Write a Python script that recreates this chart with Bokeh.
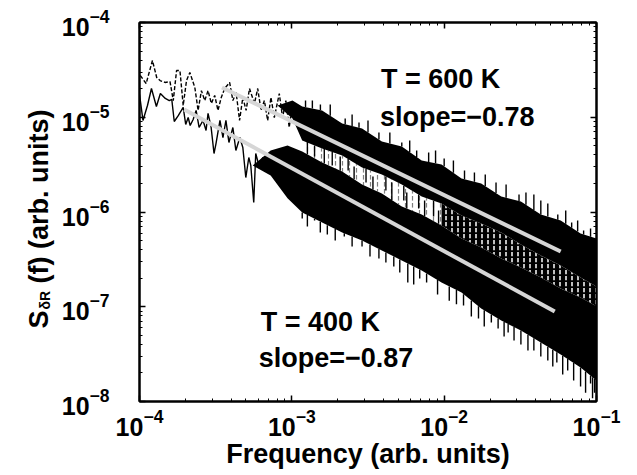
import numpy as np
from bokeh.plotting import figure
from bokeh.layouts import row
from bokeh.models import LogAxis, FixedTicker, Label, LogTickFormatter, Range1d
from bokeh.embed import file_html
from bokeh.resources import INLINE

# ---------------- data ----------------
# T = 400 K, low-frequency (resolved) part of the spectrum
f400 = [1.00e-4, 1.054e-4, 1.128e-4, 1.198e-4, 1.291e-4, 1.371e-4, 1.477e-4, 1.569e-4, 1.629e-4, 1.691e-4,
        1.796e-4, 1.936e-4, 2.011e-4, 2.087e-4, 2.151e-4, 2.250e-4, 2.353e-4, 2.462e-4, 2.614e-4, 2.735e-4,
        2.818e-4, 2.948e-4, 3.084e-4, 3.178e-4, 3.375e-4, 3.530e-4, 3.693e-4, 3.864e-4, 4.102e-4, 4.292e-4,
        4.557e-4, 4.768e-4, 4.987e-4, 5.218e-4, 5.377e-4, 5.623e-4, 5.795e-4, 6.154e-4, 6.438e-4, 6.735e-4,
        7.150e-4, 7.479e-4, 7.825e-4, 8.310e-4, 8.692e-4, 9.094e-4, 9.512e-4]
s400 = [1.74e-5, 9.25e-6, 1.33e-5, 2.01e-5, 1.30e-5, 1.78e-5, 1.58e-5, 1.50e-5, 1.54e-5, 9.02e-6,
        1.04e-5, 1.27e-5, 8.38e-6, 9.93e-6, 8.18e-6, 9.46e-6, 1.18e-5, 7.80e-6, 9.25e-6, 7.24e-6,
        1.10e-5, 7.98e-6, 4.14e-6, 5.28e-6, 9.25e-6, 6.11e-6, 9.25e-6, 5.42e-6, 7.80e-6, 4.46e-6,
        6.11e-6, 4.80e-6, 2.31e-6, 3.76e-6, 3.10e-6, 1.26e-6, 4.14e-6, 2.88e-6, 3.76e-6, 2.74e-6,
        4.14e-6, 3.02e-6, 3.76e-6, 2.31e-6, 3.67e-6, 2.43e-6, 3.50e-6]

# T = 600 K, low-frequency (resolved) part of the spectrum
f600 = [1.011e-4, 1.106e-4, 1.216e-4, 1.297e-4, 1.365e-4, 1.471e-4, 1.586e-4, 1.666e-4, 1.751e-4, 1.843e-4,
        1.936e-4, 2.035e-4, 2.141e-4, 2.308e-4, 2.425e-4, 2.549e-4, 2.682e-4, 2.818e-4, 2.962e-4, 3.117e-4,
        3.275e-4, 3.442e-4, 3.622e-4, 3.905e-4, 4.102e-4, 4.311e-4, 4.537e-4, 4.768e-4, 5.010e-4, 5.272e-4,
        5.683e-4, 5.971e-4, 6.276e-4, 6.604e-4, 6.939e-4, 7.292e-4, 7.674e-4, 8.273e-4, 8.692e-4, 9.136e-4,
        9.612e-4, 1.010e-3, 1.057e-3, 1.105e-3, 1.174e-3, 1.228e-3]
s600 = [2.76e-5, 2.27e-5, 3.97e-5, 2.63e-5, 2.44e-5, 2.33e-5, 2.38e-5, 1.50e-5, 3.11e-5, 3.11e-5,
        1.33e-5, 2.44e-5, 2.97e-5, 2.06e-5, 1.18e-5, 1.91e-5, 1.50e-5, 1.91e-5, 1.40e-5, 1.70e-5,
        1.18e-5, 1.62e-5, 2.01e-5, 2.33e-5, 1.50e-5, 1.82e-5, 9.25e-6, 1.62e-5, 1.18e-5, 2.01e-5,
        1.40e-5, 2.01e-5, 1.18e-5, 1.50e-5, 9.25e-6, 1.62e-5, 9.93e-6, 1.78e-5, 9.93e-6, 1.50e-5,
        7.80e-6, 1.43e-5, 9.70e-6, 1.30e-5, 8.18e-6, 1.18e-5]

# dense high-frequency part: envelopes of the black bands
fband400 = [5.54e-4, 7.26e-4, 9.37e-4, 1.17e-3, 1.58e-3, 2.14e-3, 2.89e-3, 3.90e-3, 5.27e-3, 7.12e-3,
            9.61e-3, 1.30e-2, 1.75e-2, 2.37e-2, 3.19e-2, 4.31e-2, 5.82e-2, 7.86e-2, 1.0e-1]
upper400 = [3.10e-6, 4.46e-6, 5.04e-6, 4.36e-6, 3.33e-6, 2.67e-6, 1.95e-6, 1.57e-6, 1.14e-6, 9.42e-7,
            7.21e-7, 5.25e-7, 4.22e-7, 3.23e-7, 2.59e-7, 2.04e-7, 1.56e-7, 1.25e-7, 1.01e-7]
lower400 = [3.10e-6, 2.43e-6, 1.40e-6, 9.89e-7, 7.74e-7, 6.08e-7, 5.00e-7, 3.93e-7, 3.08e-7, 2.42e-7,
            1.80e-7, 1.41e-7, 9.59e-8, 7.16e-8, 5.61e-8, 4.20e-8, 3.13e-8, 2.29e-8, 1.67e-8]

fband600 = [8.06e-4, 1.01e-3, 1.17e-3, 1.58e-3, 2.14e-3, 2.89e-3, 3.90e-3, 5.27e-3, 7.12e-3, 9.61e-3,
            1.30e-2, 1.75e-2, 2.37e-2, 3.19e-2, 4.31e-2, 5.82e-2, 7.86e-2, 1.0e-1]
upper600 = [1.33e-5, 1.50e-5, 1.30e-5, 1.18e-5, 8.59e-6, 7.60e-6, 5.55e-6, 4.91e-6, 3.50e-6, 3.17e-6,
            2.26e-6, 2.00e-6, 1.46e-6, 1.29e-6, 9.42e-7, 8.13e-7, 5.93e-7, 5.25e-7]
lower600 = [1.33e-5, 9.70e-6, 5.69e-6, 4.68e-6, 3.95e-6, 2.95e-6, 2.49e-6, 1.95e-6, 1.46e-6, 1.23e-6,
            9.18e-7, 7.57e-7, 6.08e-7, 4.54e-7, 3.48e-7, 2.72e-7, 2.04e-7, 1.64e-7]

# isolated spikes sticking out of the dense bands
# 400 K, downward (below the band)
spike400_f = [1.17e-3, 1.41e-3, 1.71e-3, 2.21e-3, 2.89e-3, 3.73e-3, 4.67e-3, 5.77e-3, 6.91e-3, 1.08e-2,
              1.34e-2, 1.68e-2, 2.04e-2, 2.26e-2, 2.63e-2, 3.19e-2, 3.88e-2, 4.79e-2, 5.49e-2, 6.47e-2,
              7.86e-2, 9.14e-2, 9.71e-2,
              1.265e-3, 1.538e-3, 1.927e-3, 2.487e-3, 3.259e-3, 4.144e-3, 5.112e-3, 6.310e-3, 7.669e-3,
              9.05e-3, 1.204e-2, 1.508e-2, 1.833e-2, 2.474e-2, 2.875e-2, 3.548e-2, 4.31e-2, 5.164e-2,
              6.00e-2, 7.079e-2, 8.479e-2, 9.42e-2]
spike400_s = [8.53e-7, 8.13e-7, 5.79e-7, 5.51e-7, 4.33e-7, 3.23e-7, 2.66e-7, 1.80e-7, 1.99e-7, 1.16e-7,
              1.03e-7, 7.52e-8, 6.82e-8, 5.89e-8, 5.35e-8, 4.00e-8, 3.45e-8, 2.71e-8, 2.58e-8, 2.12e-8,
              1.44e-8, 1.55e-8, 1.24e-8,
              7.03e-7, 6.08e-7, 5.00e-7, 4.33e-7, 3.39e-7, 2.93e-7, 2.30e-7, 1.72e-7, 1.80e-7,
              1.35e-7, 1.06e-7, 7.89e-8, 6.19e-8, 4.85e-8, 4.41e-8, 3.45e-8, 2.99e-8, 2.34e-8,
              1.93e-8, 1.67e-8, 1.24e-8, 1.08e-8]
# 400 K, upward (into the gap between the two bands)
spike400up_f = [1.265e-3, 1.633e-3, 2.077e-3, 2.563e-3, 3.408e-3, 4.534e-3, 5.682e-3, 7.441e-3, 9.19e-3]
spike400up_s = [5.69e-6, 4.68e-6, 3.85e-6, 3.02e-6, 2.37e-6, 2.05e-6, 1.61e-6, 1.32e-6, 1.04e-6]
# 600 K, upward (above the band)
spike600_f = [1.23e-3, 1.54e-3, 2.24e-3, 2.76e-3, 3.73e-3, 5.27e-3, 6.60e-3, 7.91e-3, 1.00e-2, 1.36e-2,
              1.58e-2, 2.19e-2, 3.10e-2, 3.88e-2, 4.79e-2, 5.57e-2, 6.87e-2, 8.23e-2,
              1.364e-3, 1.787e-3, 2.487e-3, 3.162e-3, 4.400e-3, 5.940e-3, 8.78e-3, 1.150e-2, 1.861e-2,
              2.550e-2, 3.443e-2, 4.31e-2, 6.28e-2, 7.52e-2, 9.14e-2]
spike600_s = [1.50e-5, 1.36e-5, 9.70e-6, 8.81e-6, 6.90e-6, 5.42e-6, 4.46e-6, 4.25e-6, 3.67e-6, 2.74e-6,
              2.61e-6, 2.05e-6, 1.53e-6, 1.53e-6, 1.23e-6, 9.42e-7, 7.74e-7, 6.38e-7,
              1.50e-5, 1.36e-5, 1.07e-5, 9.25e-6, 6.90e-6, 5.69e-6, 4.46e-6, 3.50e-6, 2.49e-6,
              1.95e-6, 1.61e-6, 1.32e-6, 1.04e-6, 8.13e-7, 6.70e-7]
# 600 K, downward (into the gap between the two bands)
spike600dn_f = [1.41e-3, 1.842e-3, 2.342e-3, 3.069e-3, 4.144e-3, 5.431e-3, 6.80e-3, 8.52e-3]
spike600dn_s = [3.85e-6, 3.10e-6, 2.74e-6, 2.05e-6, 1.69e-6, 1.32e-6, 1.09e-6, 8.97e-7]

# power-law fits (end points)
fit600_f = [3.48e-4, 5.82e-2]
fit600_s = [2.06e-5, 3.83e-7]
fit400_f = [1.965e-4, 5.32e-2]
fit400_s = [1.21e-5, 8.91e-8]

x_major = [1e-4, 1e-3, 1e-2, 1e-1]
y_major = [1e-8, 1e-7, 1e-6, 1e-5, 1e-4]

# ---------------- figure ----------------
FONT = "Liberation Sans"
LAB_W = 58
p = figure(width=637 - LAB_W, height=475, x_axis_type="log", y_axis_type="log",
           x_range=(1e-4, 1e-1), y_range=(1e-8, 1e-4),
           output_backend="svg", toolbar_location=None,
           min_border_left=136 - LAB_W, min_border_right=41, min_border_top=22, min_border_bottom=74)
p.grid.visible = False
p.outline_line_color = "black"
p.outline_line_width = 2
p.background_fill_color = "white"
p.border_fill_color = "white"

x_minor = [m * 10.0 ** k for k in range(-4, -1) for m in range(2, 10)]
y_minor = [m * 10.0 ** k for k in range(-8, -4) for m in range(2, 10)]


def style(ax, ticks, minor, show_labels=True):
    ax.ticker = FixedTicker(ticks=ticks, minor_ticks=minor)
    ax.formatter = LogTickFormatter()
    ax.axis_line_width = 2
    ax.axis_line_color = "black"
    ax.major_tick_in = 6
    ax.major_tick_out = 0
    ax.minor_tick_in = 3
    ax.minor_tick_out = 0
    ax.major_tick_line_width = 1.5
    ax.minor_tick_line_width = 1
    ax.major_tick_line_color = "black"
    ax.minor_tick_line_color = "black"
    if show_labels:
        ax.major_label_text_font = FONT
        ax.major_label_text_font_style = "bold"
        ax.major_label_text_font_size = "25px"
        ax.major_label_text_color = "black"
    else:
        ax.major_label_text_font_size = "1px"
        ax.major_label_text_alpha = 0
        ax.major_label_standoff = 0


style(p.xaxis[0], x_major, x_minor)
style(p.yaxis[0], y_major, y_minor)
p.xaxis[0].major_label_standoff = 7
p.yaxis[0].major_label_standoff = 30
p.xaxis[0].axis_label = "Frequency (arb. units)"
p.xaxis[0].axis_label_text_font = FONT
p.xaxis[0].axis_label_text_font_style = "bold"
p.xaxis[0].axis_label_text_font_size = "27px"
p.xaxis[0].axis_label_standoff = 0
p.xaxis[0].axis_label_text_color = "black"

top = LogAxis()
style(top, x_major, x_minor, show_labels=False)
right = LogAxis()
style(right, y_major, y_minor, show_labels=False)
p.add_layout(top, "above")
p.add_layout(right, "right")

# speckled region between the two dense bands
p.varea(x=fband600[2:10], y1=upper400[3:11], y2=lower600[2:10], fill_alpha=0,
        hatch_pattern="vertical_dash", hatch_color="black", hatch_alpha=0.5, hatch_scale=7, hatch_weight=1.2)
p.varea(x=fband600[9:], y1=upper400[10:], y2=lower600[9:], fill_color="black", fill_alpha=1,
        hatch_pattern="vertical_dash", hatch_color="white", hatch_alpha=1, hatch_scale=6, hatch_weight=1.5)

# dense bands
p.varea(x=fband600, y1=lower600, y2=upper600, fill_color="black")
p.varea(x=fband400, y1=lower400, y2=upper400, fill_color="black")


# spikes: from the band edge out to the spike tip
def spikes(fs, ss, band_f, edge):
    e = 10 ** np.interp(np.log10(fs), np.log10(band_f), np.log10(edge))
    p.segment(x0=fs, y0=ss, x1=fs, y1=e, line_color="black", line_width=1.4)


spikes(spike400_f, spike400_s, fband400, lower400)
spikes(spike400up_f, spike400up_s, fband400, upper400)
spikes(spike600_f, spike600_s, fband600, upper600)
spikes(spike600dn_f, spike600dn_s, fband600, lower600)

# resolved low-frequency traces
p.line(f400, s400, line_color="black", line_width=1.4)
p.line(f600, s600, line_color="black", line_width=1.4, line_dash="4 2")

# fit lines
p.line(fit600_f, fit600_s, line_color="#d6d6d6", line_width=4)
p.line(fit400_f, fit400_s, line_color="#d6d6d6", line_width=4)


# annotations
def txt(x, y, s):
    p.add_layout(Label(x=x, y=y, text=s, text_font=FONT, text_font_style="bold",
                       text_font_size="27px", text_color="black",
                       text_align="left", text_baseline="alphabetic"))


txt(3.845e-3, 2.56e-5, "T = 600 K")
txt(3.79e-3, 9.94e-6, "slope=\u22120.78")
txt(6.25e-4, 6.82e-8, "T = 400 K")
txt(6.06e-4, 2.91e-8, "slope=\u22120.87")

# ---------------- y-axis title (with subscript) in a narrow side figure ----------------
lab = figure(width=LAB_W, height=475, output_backend="svg", toolbar_location=None,
             x_axis_location=None, y_axis_location=None, min_border=0,
             x_range=Range1d(0, 1), y_range=Range1d(0, 1))
lab.grid.visible = False
lab.outline_line_color = None
lab.background_fill_color = "white"
lab.border_fill_color = "white"


def ylab(x, y, s, size):
    # screen units are measured from the bottom-left of the (row-aligned) frame
    lab.add_layout(Label(x=x, y=y, x_units="screen", y_units="screen", text=s, angle=np.pi / 2,
                         text_font=FONT, text_font_style="bold", text_font_size=size,
                         text_color="black", text_align="left", text_baseline="alphabetic"))


ylab(38, 73, "S", "27px")
ylab(44, 92, "\u03b4R", "14px")
ylab(38, 118, "(f) (arb. units)", "27px")

layout = row(lab, p, spacing=0)
open("out.html", "w").write(file_html(layout, INLINE))
